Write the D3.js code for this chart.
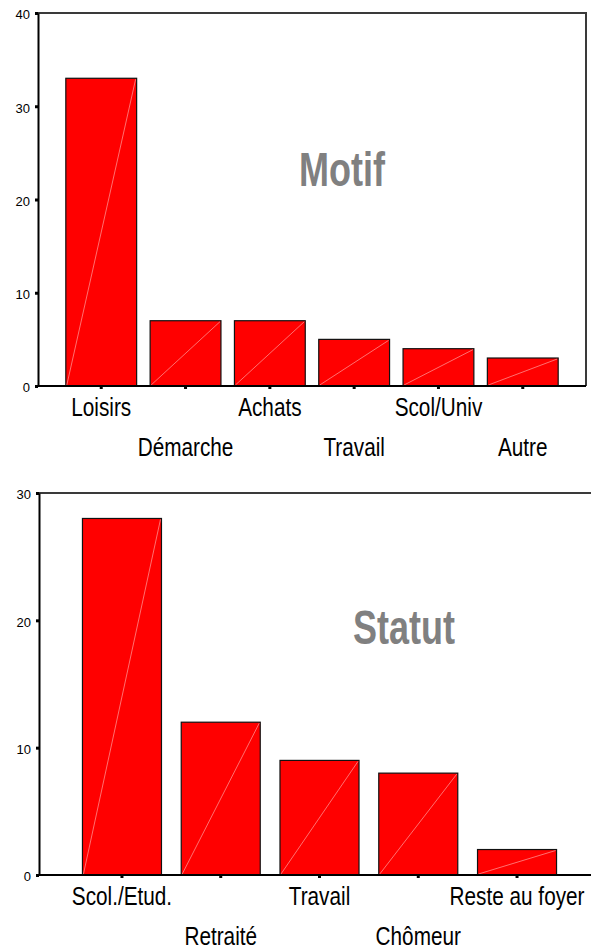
<!DOCTYPE html>
<html lang="fr">
<head>
<meta charset="UTF-8"/>
<title>Motif / Statut</title>
<script src="https://d3js.org/d3.v7.min.js"></script>
<style>
  body { margin: 0; background: #fff; }
  svg { display: block; }
  text { font-family: 'Liberation Sans', Arial, sans-serif; fill: #000; }
  .bar { fill: #ff0000; stroke: #111; stroke-width: 1.2; }
  .diag { stroke: #fff; stroke-width: 0.8; stroke-opacity: 0.55; }
  .axis path, .axis line { stroke: #000; }
  .axis path { stroke-width: 2; }
  .axis line { stroke-width: 3; }
  .frame { stroke: #3a3a3a; stroke-width: 2; fill: none; }
  .ylab { font-size: 13px; }
  .xlab { font-size: 25px; }
  .title { font-size: 48px; font-weight: bold; fill: #808080; }
</style>
</head>
<body>
<svg width="591" height="949"></svg>
<script>
// data
const motifCats = ['Loisirs', 'Démarche', 'Achats', 'Travail', 'Scol/Univ', 'Autre'];
const motifValues = [33, 7, 7, 5, 4, 3];
const motifTicks = [0, 10, 20, 30, 40];

const statutCats = ['Scol./Etud.', 'Retraité', 'Travail', 'Chômeur', 'Reste au foyer'];
const statutValues = [28, 12, 9, 8, 2];
const statutTicks = [0, 10, 20, 30];

const svg = d3.select('svg');

function drawChart(o) {
  const data = o.cats.map((c, i) => ({ cat: c, value: o.values[i] }));
  const g = svg.append('g');

  const x = d3.scaleBand()
    .domain(o.cats)
    .range([o.left, o.right])
    .paddingInner(o.padIn)
    .paddingOuter(o.padOut);

  const y = d3.scaleLinear()
    .domain([0, d3.max(o.ticks)])
    .range([o.bottom, o.top]);

  // frame top + right
  g.append('path')
    .attr('class', 'frame')
    .attr('d', `M${o.left},${o.top}H${o.right}V${o.bottom}`);

  // bars
  const bars = g.selectAll('.b').data(data).enter().append('g');
  bars.append('rect')
    .attr('class', 'bar')
    .attr('x', d => x(d.cat))
    .attr('y', d => y(d.value))
    .attr('width', x.bandwidth())
    .attr('height', d => y(0) - y(d.value));
  bars.append('line')
    .attr('class', 'diag')
    .attr('x1', d => x(d.cat) + 1)
    .attr('y1', y(0) - 1)
    .attr('x2', d => x(d.cat) + x.bandwidth() - 1)
    .attr('y2', d => y(d.value) + 1);

  // y axis
  const ya = g.append('g')
    .attr('class', 'axis')
    .attr('transform', `translate(${o.left},0)`)
    .call(d3.axisLeft(y).tickValues(o.ticks).tickSize(3).tickSizeOuter(0).tickPadding(5));
  ya.selectAll('text').attr('class', 'ylab').attr('dy', '0.45em');

  // x axis, labels staggered on two rows
  const xa = g.append('g')
    .attr('class', 'axis')
    .attr('transform', `translate(0,${o.bottom})`)
    .call(d3.axisBottom(x).tickSize(3).tickSizeOuter(0));
  xa.select('.domain').attr('d', `M${o.left},0H${o.right}`);
  xa.selectAll('text')
    .attr('class', 'xlab')
    .attr('dy', null)
    .attr('y', null)
    .attr('transform', (d, i) => `translate(0,${i % 2 ? o.row2 : o.row1}) scale(0.83,1)`);

  g.append('text')
    .attr('class', 'title')
    .attr('text-anchor', 'middle')
    .attr('transform', `translate(${o.titleX},${o.titleY}) scale(0.75,1)`)
    .text(o.title);
}

drawChart({
  cats: motifCats, values: motifValues, ticks: motifTicks, title: 'Motif',
  left: 38, right: 586, top: 13, bottom: 386, padIn: 0.16, padOut: 0.33,
  row1: 30, row2: 70, titleX: 342, titleY: 186
});

drawChart({
  cats: statutCats, values: statutValues, ticks: statutTicks, title: 'Statut',
  left: 39, right: 600, top: 493, bottom: 875, padIn: 0.2, padOut: 0.44,
  row1: 30, row2: 69.5, titleX: 404, titleY: 644
});
</script>
</body>
</html>
